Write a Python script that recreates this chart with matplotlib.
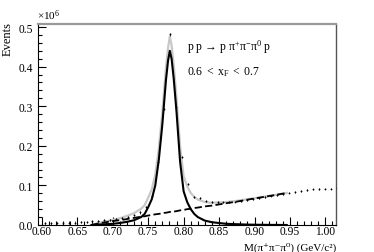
import matplotlib
matplotlib.use("Agg")
import matplotlib.pyplot as plt
from matplotlib.ticker import MultipleLocator, FormatStrFormatter

plt.rcParams['font.family'] = ['Liberation Serif', 'DejaVu Serif']
plt.rcParams['mathtext.fontset'] = 'custom'
plt.rcParams['mathtext.rm'] = 'Liberation Serif'
plt.rcParams['mathtext.it'] = 'Liberation Serif:italic'
plt.rcParams['mathtext.bf'] = 'Liberation Serif:bold'

# ---- data (units of 10^6 events) ----
data_x = [0.6042, 0.6126, 0.6210, 0.6294, 0.6378, 0.6462, 0.6546, 0.6630, 0.6714, 0.6798,
          0.6882, 0.6966, 0.7050, 0.7134, 0.7218, 0.7302, 0.7386, 0.7470, 0.7554, 0.7638,
          0.7722, 0.7806, 0.7890, 0.7974, 0.8058, 0.8142, 0.8226, 0.8310, 0.8394, 0.8478,
          0.8562, 0.8646, 0.8730, 0.8814, 0.8898, 0.8982, 0.9066, 0.9150, 0.9234, 0.9318,
          0.9402, 0.9486, 0.9570, 0.9654, 0.9738, 0.9822, 0.9906, 0.9990, 1.0074, 1.0158]
data_y = [0.004, 0.004, 0.005, 0.005, 0.006, 0.006, 0.007, 0.008, 0.009, 0.010,
          0.012, 0.013, 0.015, 0.017, 0.020, 0.025, 0.032, 0.045, 0.073, 0.159,
          0.293, 0.482, 0.298, 0.172, 0.104, 0.071, 0.068, 0.060, 0.058, 0.057,
          0.057, 0.058, 0.059, 0.061, 0.063, 0.066, 0.068, 0.071, 0.074, 0.076,
          0.079, 0.082, 0.084, 0.086, 0.088, 0.090, 0.091, 0.092, 0.092, 0.093]
data_err = [0.003, 0.003, 0.003, 0.003, 0.003, 0.003, 0.003, 0.003, 0.003, 0.003,
            0.003, 0.003, 0.003, 0.003, 0.003, 0.003, 0.003, 0.003, 0.003, 0.003,
            0.003, 0.004, 0.003, 0.003, 0.003, 0.003, 0.003, 0.003, 0.003, 0.003,
            0.002, 0.002, 0.002, 0.002, 0.002, 0.002, 0.002, 0.002, 0.002, 0.002,
            0.002, 0.002, 0.002, 0.002, 0.002, 0.002, 0.002, 0.002, 0.002, 0.002]

fit_x = [0.670, 0.680, 0.690, 0.700, 0.710, 0.720, 0.730, 0.740, 0.745, 0.750,
         0.755, 0.760, 0.765, 0.770, 0.775, 0.778, 0.7805, 0.783, 0.786, 0.790,
         0.795, 0.800, 0.805, 0.810, 0.815, 0.820, 0.830, 0.840, 0.850, 0.860,
         0.875, 0.890, 0.910, 0.930, 0.9455]
signal = [0.000, 0.001, 0.002, 0.003, 0.005, 0.008, 0.012, 0.020, 0.028, 0.045,
          0.065, 0.100, 0.165, 0.255, 0.365, 0.415, 0.440, 0.420, 0.370, 0.285,
          0.160, 0.085, 0.058, 0.040, 0.028, 0.020, 0.011, 0.007, 0.005, 0.003,
          0.002, 0.001, 0.0005, 0.0002, 0.000]
background = [0.000, 0.004, 0.007, 0.010, 0.012, 0.015, 0.018, 0.021, 0.022, 0.024,
              0.025, 0.027, 0.028, 0.030, 0.031, 0.032, 0.033, 0.034, 0.034, 0.035,
              0.037, 0.038, 0.040, 0.041, 0.043, 0.044, 0.047, 0.049, 0.052, 0.055,
              0.059, 0.064, 0.070, 0.076, 0.081]
total = [0.000, 0.005, 0.009, 0.013, 0.017, 0.023, 0.030, 0.041, 0.050, 0.069,
         0.090, 0.127, 0.193, 0.285, 0.396, 0.447, 0.477, 0.454, 0.404, 0.320,
         0.197, 0.123, 0.098, 0.081, 0.071, 0.064, 0.058, 0.056, 0.057, 0.058,
         0.061, 0.065, 0.0705, 0.0762, 0.081]

x_ticks = [0.60, 0.65, 0.70, 0.75, 0.80, 0.85, 0.90, 0.95, 1.00]
y_ticks = [0.0, 0.1, 0.2, 0.3, 0.4, 0.5]

fig = plt.figure(figsize=(3.74, 2.53), dpi=100)
ax = fig.add_axes([38/374, 27/253, 298/374, 201.5/253])

ax.plot(fit_x, total, color='#c8c8c8', lw=1.6, zorder=2)
ax.plot(fit_x, background, color='black', lw=1.3, dashes=(4, 1.8), zorder=3)
ax.plot(fit_x, signal, color='black', lw=1.5, zorder=4)
ax.errorbar(data_x, data_y, yerr=data_err, fmt='o', ms=1.3, mew=0, color='black',
            elinewidth=0.5, capsize=0, zorder=5)

ax.set_xlim(0.5945, 1.015)
ax.set_ylim(0.0, 0.509)
ax.set_xticks(x_ticks)
ax.set_yticks(y_ticks)
ax.xaxis.set_major_formatter(FormatStrFormatter('%.2f'))
ax.yaxis.set_major_formatter(FormatStrFormatter('%.1f'))
ax.xaxis.set_minor_locator(MultipleLocator(0.01))
ax.yaxis.set_minor_locator(MultipleLocator(0.02))
ax.tick_params(which='both', direction='in', top=False, right=False,
               labelsize=8.3, width=0.8, colors='black')
ax.tick_params(which='major', length=6)
ax.tick_params(axis='y', which='major', pad=3.8)
ax.tick_params(axis='x', which='major', pad=0.3)
ax.tick_params(which='minor', length=3)

ax.spines['top'].set_color('#999999')
ax.spines['top'].set_linewidth(1.6)
ax.spines['right'].set_color('#555555')
ax.spines['right'].set_linewidth(1.0)
ax.spines['left'].set_linewidth(0.8)
ax.spines['bottom'].set_linewidth(0.8)

fig.text(37/374, 1 - 23/253, r'$\mathrm{\times10^{6}}$', fontsize=8,
         ha='left', va='bottom')
fig.text(8/374, 1 - 22/253, 'Events', rotation=90, fontsize=9,
         ha='center', va='top')
fig.text(336/374, 0.0, 'M(π⁺π⁻π⁰) (GeV/c²)',
         fontsize=8, ha='right', va='bottom')
fig.text(187/374, 1 - 47/253, r'$\mathrm{p\ p\,\rightarrow\,p\ π^{+}π^{-}π^{0}\ p}$',
         fontsize=8.5, ha='left', va='center')
fig.text(187/374, 1 - 72/253, r'$\mathrm{0.6\ <\ x_{F}\ <\ 0.7}$',
         fontsize=8.5, ha='left', va='center')

fig.savefig('out.png', dpi=100)
